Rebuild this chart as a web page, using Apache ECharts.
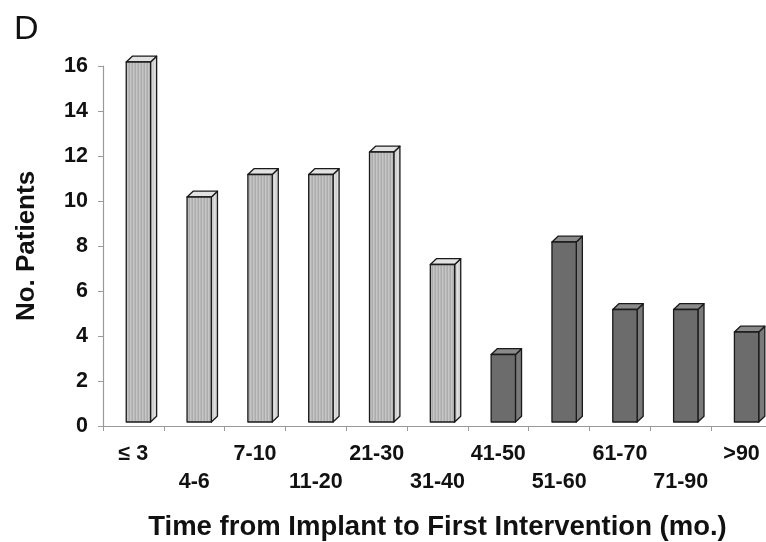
<!DOCTYPE html>
<html>
<head>
<meta charset="utf-8">
<script src="https://cdn.jsdelivr.net/npm/echarts@6/dist/echarts.min.js"></script>
<style>
  html, body { margin: 0; padding: 0; background: #ffffff; }
  #chart { width: 766px; height: 542px; }
</style>
</head>
<body>
<div id="chart"></div>
<script>
// Time from implant to first intervention, months (binned)
const categories = ['≤ 3', '4-6', '7-10', '11-20', '21-30', '31-40', '41-50', '51-60', '61-70', '71-90', '>90'];
// Patient counts, first 40 months (light bars)
const earlyPatients = [16, 10, 11, 11, 12, 7, null, null, null, null, null];
// Patient counts, after 40 months (dark bars)
const latePatients = [null, null, null, null, null, null, 3, 8, 5, 5, 4];
// Y-axis ticks
const yTicks = { min: 0, max: 16, interval: 2 };

const FONT = '"Liberation Sans", Arial, sans-serif';

// Fine vertical hatching used for the light bars
function stripes(a, b, c) {
  const cv = document.createElement('canvas');
  cv.width = 3; cv.height = 4;
  const ctx = cv.getContext('2d');
  ctx.fillStyle = a; ctx.fillRect(0, 0, 1, 4);
  ctx.fillStyle = b; ctx.fillRect(1, 0, 1, 4);
  ctx.fillStyle = c; ctx.fillRect(2, 0, 1, 4);
  return { image: cv, repeat: 'repeat' };
}

const lightFaces = {
  front: stripes('#acacac', '#c6c6c6', '#b8b8b8'),
  side: stripes('#cfcfcf', '#e0e0e0', '#d6d6d6'),
  top: '#e2e2e2'
};
const darkFaces = {
  front: '#6c6c6c',
  side: '#7a7a7a',
  top: '#8a8a8a'
};

// Draws one pseudo-3D column: front face, right side and top
function columnRenderer(faces) {
  return function (params, api) {
    const v = api.value(1);
    if (v == null || isNaN(v)) return null;
    const cat = api.value(0);
    const base = api.coord([cat, 0]);
    const top = api.coord([cat, v]);
    const bw = api.size([1, 0])[0];
    const lift = 4;
    const x0 = base[0] - bw * 0.118;
    const w = bw * 0.40;
    const dx = bw * 0.1;
    const dy = 5.8;
    const yT = top[1] - lift;
    const yB = base[1] - lift;
    const stroke = { stroke: '#1a1a1a', lineWidth: 1.3, lineJoin: 'round' };
    return {
      type: 'group',
      children: [
        {
          type: 'polygon',
          shape: { points: [[x0 + w, yT], [x0 + w + dx, yT - dy], [x0 + w + dx, yB - dy], [x0 + w, yB]] },
          style: Object.assign({ fill: faces.side }, stroke)
        },
        {
          type: 'polygon',
          shape: { points: [[x0, yT], [x0 + dx, yT - dy], [x0 + w + dx, yT - dy], [x0 + w, yT]] },
          style: Object.assign({ fill: faces.top }, stroke)
        },
        {
          type: 'rect',
          shape: { x: x0, y: yT, width: w, height: yB - yT },
          style: Object.assign({ fill: faces.front }, stroke)
        }
      ]
    };
  };
}

function toPoints(arr) {
  return arr.map((v, i) => [i, v == null ? NaN : v]);
}

const chart = echarts.init(document.getElementById('chart'), null, { renderer: 'canvas' });

chart.setOption({
  animation: false,
  backgroundColor: '#ffffff',
  graphic: [{
    type: 'text',
    left: 14,
    top: 13,
    style: { text: 'D', font: 'normal 34px ' + FONT, fill: '#111111' }
  }],
  grid: { left: 103, top: 66, width: 669, height: 360, containLabel: false, outerBoundsMode: 'none' },
  xAxis: {
    type: 'category',
    data: categories,
    boundaryGap: true,
    name: 'Time from Implant to First Intervention (mo.)',
    nameLocation: 'middle',
    nameGap: 87,
    nameTextStyle: { fontFamily: FONT, fontSize: 27.5, fontWeight: 'bold', color: '#111111' },
    axisLine: { show: true, lineStyle: { color: '#9a9a9a', width: 1.2 } },
    axisTick: { show: true, alignWithLabel: false, length: 5, lineStyle: { color: '#9a9a9a' } },
    axisLabel: {
      interval: 0,
      margin: 14,
      fontFamily: FONT,
      fontSize: 21.5,
      fontWeight: 'bold',
      color: '#111111',
      lineHeight: 28,
      formatter: (val, idx) => (idx % 2 ? '\n' + val : val)
    },
    splitLine: { show: false }
  },
  yAxis: {
    type: 'value',
    min: yTicks.min,
    max: yTicks.max,
    interval: yTicks.interval,
    name: 'No. Patients',
    nameLocation: 'middle',
    nameGap: 63,
    nameRotate: 90,
    nameTextStyle: { fontFamily: FONT, fontSize: 26, fontWeight: 'bold', color: '#111111' },
    axisLine: { show: true, lineStyle: { color: '#9a9a9a', width: 1.2 } },
    axisTick: { show: true, length: 5, lineStyle: { color: '#9a9a9a' } },
    axisLabel: { margin: 15, fontFamily: FONT, fontSize: 21.5, fontWeight: 'bold', color: '#111111' },
    splitLine: { show: false }
  },
  series: [
    {
      name: 'early',
      type: 'custom',
      renderItem: columnRenderer(lightFaces),
      encode: { x: 0, y: 1 },
      data: toPoints(earlyPatients),
      clip: false,
      z: 2
    },
    {
      name: 'late',
      type: 'custom',
      renderItem: columnRenderer(darkFaces),
      encode: { x: 0, y: 1 },
      data: toPoints(latePatients),
      clip: false,
      z: 2
    }
  ]
});
</script>
</body>
</html>
